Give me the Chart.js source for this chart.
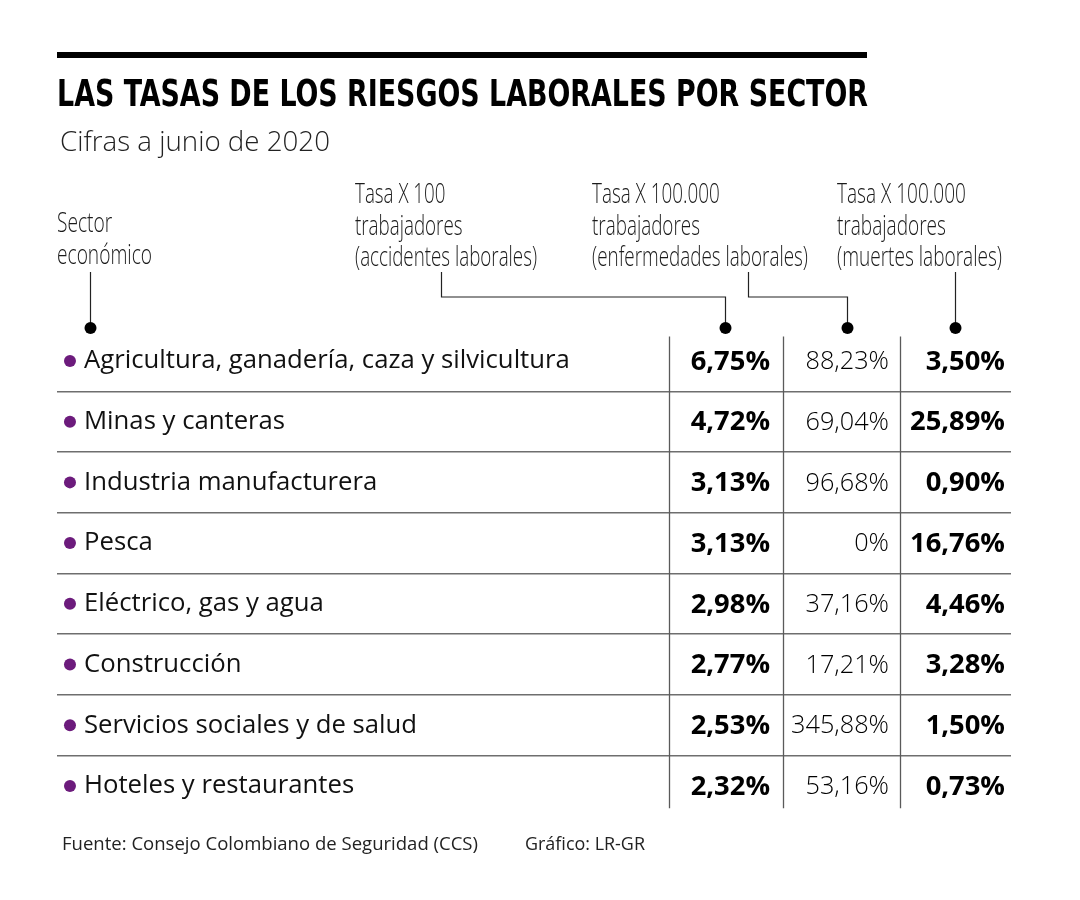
<!DOCTYPE html>
<html lang="es">
<head>
<meta charset="utf-8">
<title>Las tasas de los riesgos laborales por sector</title>
<script src="https://cdn.jsdelivr.net/npm/chart.js@4.4.1/dist/chart.umd.min.js"></script>
<style>
    html, body { margin: 0; padding: 0; background: #fff; }
    #wrap { position: relative; width: 1080px; height: 900px; overflow: hidden; background: #fff; }
    #chart { position: absolute; left: 0; top: 0; }
    .topbar { position: absolute; left: 57px; top: 52px; width: 810px; height: 6px; background: #000; }
    .txt { position: absolute; white-space: nowrap; line-height: 1; transform-origin: 0 0; color: #000; }
    #title { left: 57px; top: 72px; font: 700 37px 'Liberation Sans Narrow', 'DejaVu Sans Condensed', 'Liberation Sans', sans-serif; }
    #subtitle { left: 60px; top: 121px; font: 300 28px 'Open Sans', sans-serif; color: #222; }
    #source { left: 62px; top: 830px; font: 400 19px 'Open Sans', sans-serif; color: #222; }
    #credit { left: 525px; top: 830px; font: 400 19px 'Open Sans', sans-serif; color: #222; }
</style>
</head>
<body>
<div id="wrap">
    <canvas id="chart" width="1080" height="900"></canvas>
    <div class="topbar"></div>
    <div class="txt" id="title" data-w="811">LAS TASAS DE LOS RIESGOS LABORALES POR SECTOR</div>
    <div class="txt" id="subtitle" data-w="270">Cifras a junio de 2020</div>
    <div class="txt" id="source" data-w="416">Fuente: Consejo Colombiano de Seguridad (CCS)</div>
    <div class="txt" id="credit" data-w="120">Gráfico: LR-GR</div>
</div>
<script>
// data
const sectors = [
    'Agricultura, ganadería, caza y silvicultura',
    'Minas y canteras',
    'Industria manufacturera',
    'Pesca',
    'Eléctrico, gas y agua',
    'Construcción',
    'Servicios sociales y de salud',
    'Hoteles y restaurantes'
];
const accidentes = [6.75, 4.72, 3.13, 3.13, 2.98, 2.77, 2.53, 2.32];
const enfermedades = [88.23, 69.04, 96.68, 0, 37.16, 17.21, 345.88, 53.16];
const muertes = [3.50, 25.89, 0.90, 16.76, 4.46, 3.28, 1.50, 0.73];

const headerSector = ['Sector', 'económico'];
const headerAccidentes = ['Tasa X 100', 'trabajadores', '(accidentes laborales)'];
const headerEnfermedades = ['Tasa X 100.000', 'trabajadores', '(enfermedades laborales)'];
const headerMuertes = ['Tasa X 100.000', 'trabajadores', '(muertes laborales)'];

// layout (x in table units 0-100, y in pixels)
const colEdges = [64.15, 76.10, 88.36];
const valueAnchors = [74.74, 87.21, 99.37];
const colDots = [70.02, 82.81, 94.13];
const sectorDotX = 3.46;
const rowDotX = 1.36;
const PURPLE = '#6c1b7c';
const FAMILY = "'Open Sans', sans-serif";

function fmt(v) {
    if (v === 0) return '0%';
    return v.toFixed(2).replace('.', ',') + '%';
}

function fitSize(text, weight, target) {
    const ctx = document.createElement('canvas').getContext('2d');
    ctx.font = `${weight} 100px ${FAMILY}`;
    return 100 * target / ctx.measureText(text).width;
}

function drawBlock(ctx, lines, left, baselines, targetWidth) {
    ctx.save();
    ctx.font = `300 28px ${FAMILY}`;
    ctx.fillStyle = '#1a1a1a';
    ctx.textAlign = 'left';
    ctx.textBaseline = 'alphabetic';
    const widest = Math.max(...lines.map(l => ctx.measureText(l).width));
    ctx.translate(left, 0);
    ctx.scale(targetWidth / widest, 1);
    lines.forEach((l, i) => ctx.fillText(l, 0, baselines[i]));
    ctx.restore();
}

function path(ctx, pts) {
    ctx.beginPath();
    ctx.moveTo(pts[0][0], pts[0][1]);
    pts.slice(1).forEach(p => ctx.lineTo(p[0], p[1]));
    ctx.stroke();
}

function dot(ctx, x, y, r, color) {
    ctx.beginPath();
    ctx.arc(x, y, r, 0, Math.PI * 2);
    ctx.fillStyle = color;
    ctx.fill();
}

const tablePlugin = {
    id: 'tablePlugin',
    beforeDatasetsDraw(chart) {
        const {ctx, chartArea, scales: {x, y}} = chart;
        ctx.save();
        // column rules
        ctx.strokeStyle = '#5a5a5a';
        ctx.lineWidth = 1.3;
        colEdges.forEach(e => {
            const px = Math.round(x.getPixelForValue(e)) + 0.5;
            path(ctx, [[px, chartArea.top + 6], [px, chartArea.bottom - 8]]);
        });
        // row bullets
        sectors.forEach(s => dot(ctx, x.getPixelForValue(rowDotX), y.getPixelForValue(s), 6, PURPLE));
        ctx.restore();
    },
    afterDatasetsDraw(chart) {
        const {ctx, scales: {x}} = chart;
        ctx.save();
        ctx.textAlign = 'right';
        ctx.textBaseline = 'middle';
        ctx.fillStyle = '#000';
        chart.data.datasets.forEach((ds, i) => {
            ctx.font = ds.textFont;
            chart.getDatasetMeta(i).data.forEach((pt, j) => {
                ctx.fillText(fmt(ds.data[j].v), pt.x, pt.y + 1);
            });
        });

        // headers
        drawBlock(ctx, headerSector, x.getPixelForValue(0), [232, 264], 95);
        drawBlock(ctx, headerAccidentes, x.getPixelForValue(31.24), [203, 235, 266], 182);
        drawBlock(ctx, headerEnfermedades, x.getPixelForValue(56.08), [203, 235, 266], 216);
        drawBlock(ctx, headerMuertes, x.getPixelForValue(81.76), [203, 235, 266], 165);

        // connectors
        const top = 272, elbow = 297, dotY = 328;
        const px = v => Math.round(x.getPixelForValue(v)) + 0.5;
        ctx.strokeStyle = '#222';
        ctx.lineWidth = 1.2;
        path(ctx, [[px(sectorDotX), top], [px(sectorDotX), dotY]]);
        path(ctx, [[px(40.25), top], [px(40.25), elbow], [px(colDots[0]), elbow], [px(colDots[0]), dotY]]);
        path(ctx, [[px(72.43), top], [px(72.43), elbow], [px(colDots[1]), elbow], [px(colDots[1]), dotY]]);
        path(ctx, [[px(colDots[2]), top], [px(colDots[2]), dotY]]);
        [sectorDotX].concat(colDots).forEach(v => dot(ctx, px(v), dotY, 6, '#000'));
        ctx.restore();
    }
};

function buildChart() {
    const labelSize = fitSize(sectors[0], 400, 486);
    const boldSize = fitSize('25,89%', 700, 95);
    const lightSize = fitSize('345,88%', 300, 98);

    const series = [accidentes, enfermedades, muertes];
    const fonts = [
        `700 ${boldSize}px ${FAMILY}`,
        `300 ${lightSize}px ${FAMILY}`,
        `700 ${boldSize}px ${FAMILY}`
    ];

    new Chart(document.getElementById('chart'), {
        type: 'scatter',
        data: {
            datasets: series.map((vals, i) => ({
                data: vals.map((v, j) => ({x: valueAnchors[i], y: sectors[j], v: v})),
                pointRadius: 0,
                pointHoverRadius: 0,
                textFont: fonts[i]
            }))
        },
        options: {
            responsive: false,
            animation: false,
            events: [],
            layout: {padding: {left: 57, right: 69, top: 330.6, bottom: 83.7}},
            plugins: {legend: {display: false}, tooltip: {enabled: false}},
            scales: {
                x: {type: 'linear', min: 0, max: 100, display: false},
                y: {
                    type: 'category',
                    labels: sectors,
                    offset: true,
                    border: {display: false},
                    afterFit: s => { s.width = 0; },
                    grid: {
                        offset: true,
                        drawTicks: false,
                        lineWidth: 1.6,
                        color: c => (c.type !== 'tick' || c.index === 0) ? 'rgba(0,0,0,0)' : '#6e6e6e'
                    },
                    ticks: {
                        mirror: true,
                        padding: 27,
                        autoSkip: false,
                        color: '#111',
                        font: {family: FAMILY, size: labelSize, weight: 400}
                    }
                }
            }
        },
        plugins: [tablePlugin]
    });

    document.querySelectorAll('.txt').forEach(el => {
        const w = el.getBoundingClientRect().width;
        el.style.transform = `scaleX(${el.dataset.w / w})`;
    });
}

Promise.all([
    "400 20px 'Open Sans'", "700 20px 'Open Sans'", "300 20px 'Open Sans'",
    "700 20px 'Liberation Sans Narrow'"
].map(f => document.fonts.load(f))).then(buildChart, buildChart);
</script>
</body>
